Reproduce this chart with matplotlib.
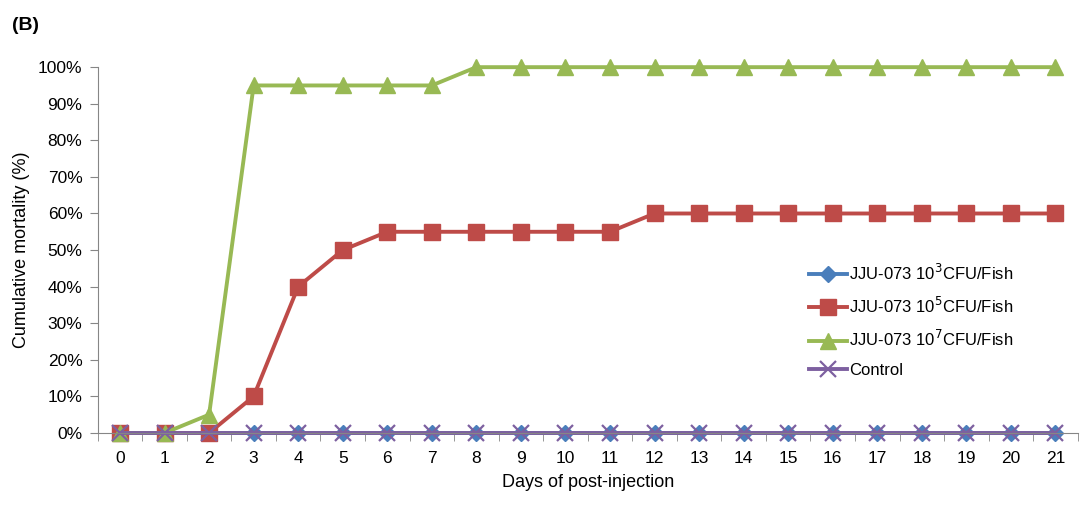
import matplotlib
matplotlib.use("Agg")
import matplotlib.pyplot as plt
from matplotlib.ticker import FixedLocator, PercentFormatter

plt.rcParams["font.family"] = ["Liberation Sans", "DejaVu Sans"]

days = list(range(22))
dose3 = [0] * 22
dose5 = [0, 0, 0, 10, 40, 50, 55, 55, 55, 55, 55, 55] + [60] * 10
dose7 = [0, 0, 5, 95, 95, 95, 95, 95] + [100] * 14
control = [0] * 22
labels = ["JJU-073 10$^{3}$CFU/Fish", "JJU-073 10$^{5}$CFU/Fish",
          "JJU-073 10$^{7}$CFU/Fish", "Control"]

fig = plt.figure(figsize=(10.81, 5.05), dpi=100)
ax = fig.add_axes([0.0904, 0.1426, 0.9066, 0.7244])

ax.plot(days, dose3, color="#4a7ebb", marker="D", ms=8, lw=2.8, label=labels[0])
ax.plot(days, dose5, color="#be4b48", marker="s", ms=11.5, lw=2.8, label=labels[1])
ax.plot(days, dose7, color="#98b954", marker="^", ms=12, lw=2.8, label=labels[2])
ax.plot(days, control, color="#7d60a0", marker="x", ms=11, mew=1.6, lw=2.8, label=labels[3])

ax.set_xlim(-0.5, 21.5)
ax.set_ylim(0, 100)
ax.set_xticks(days)
ax.xaxis.set_minor_locator(FixedLocator([d - 0.5 for d in range(23)]))
ax.tick_params(axis="x", which="major", length=0, labelsize=12.5, pad=13)
ax.tick_params(axis="x", which="minor", length=6, direction="out", color="#868686")
ax.set_yticks(range(0, 101, 10))
ax.yaxis.set_major_formatter(PercentFormatter(decimals=0))
ax.tick_params(axis="y", length=6, direction="out", color="#868686", labelsize=12.5, pad=5)
for s in ("top", "right"):
    ax.spines[s].set_visible(False)
for s in ("left", "bottom"):
    ax.spines[s].set_color("#868686")
for l in ax.lines:
    l.set_clip_on(False)

ax.set_xlabel("Days of post-injection", fontsize=13, labelpad=6)
ax.set_ylabel("Cumulative mortality (%)", fontsize=13, labelpad=6)
fig.text(0.011, 0.94, "(B)", fontsize=14, fontweight="bold")

leg = fig.legend(loc="center left", bbox_to_anchor=(0.748, 0.366), frameon=False,
                 fontsize=12, handlelength=2.3, handletextpad=0.15, labelspacing=0.8,
                 borderaxespad=0, borderpad=0)

fig.savefig("out.png", dpi=100)
